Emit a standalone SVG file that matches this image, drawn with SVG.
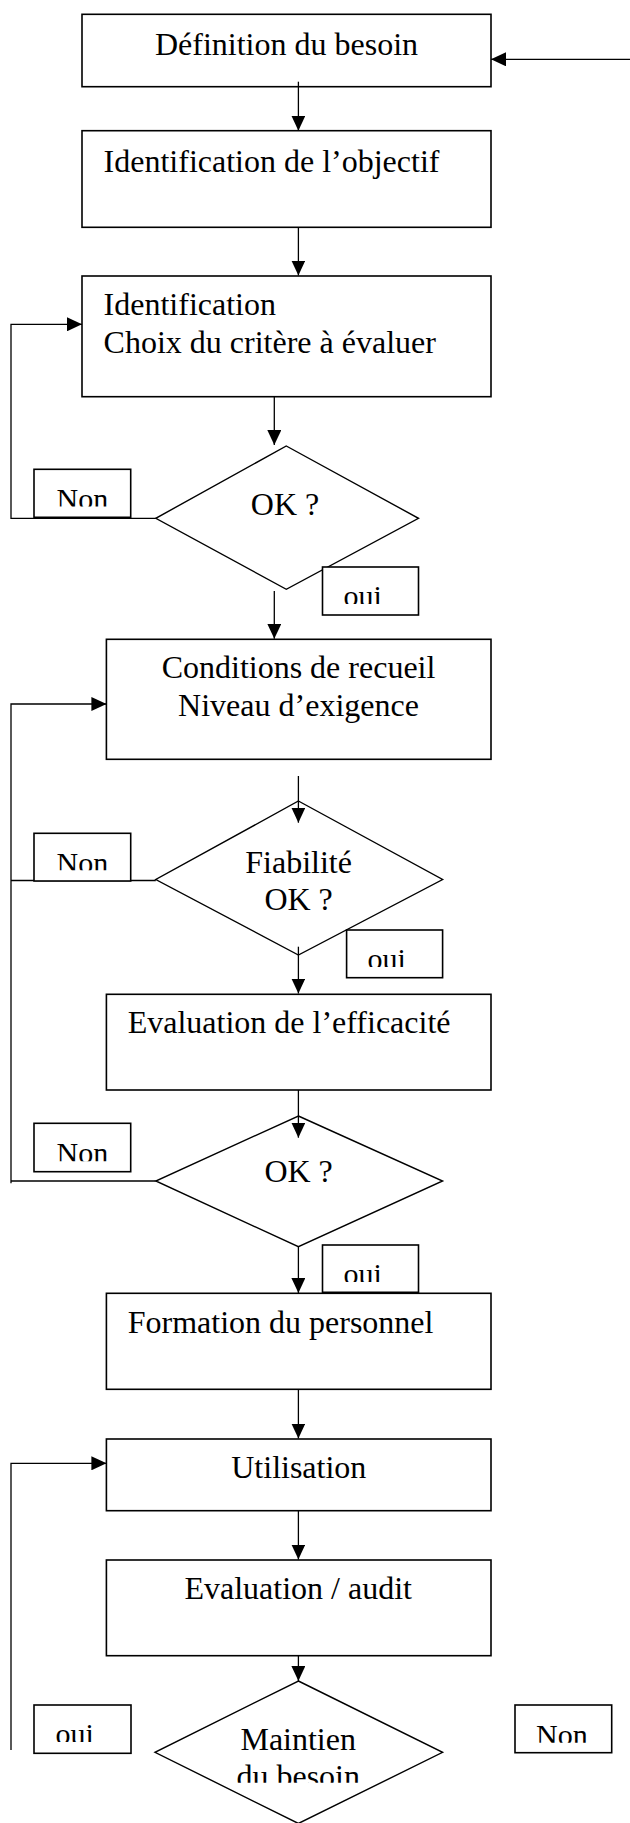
<svg xmlns="http://www.w3.org/2000/svg" width="630" height="1823" viewBox="0 0 630 1823">
  <style>
    .box { fill: #fff; stroke: #000; stroke-width: 1.6; }
    .dia { fill: #fff; stroke: #000; stroke-width: 1.4; }
    .lbl { fill: #fff; stroke: #000; stroke-width: 1.6; }
    .wire { fill: none; stroke: #000; stroke-width: 1.3; }
    .arr { fill: none; stroke: #000; stroke-width: 1.3; marker-end: url(#head); }
    text { font-family: "Liberation Serif", "Times New Roman", serif; fill: #000; }
    .t { font-size: 32px; }
    .c { text-anchor: middle; }
    .l { font-size: 30px; }
  </style>
  <defs>
    <marker id="head" markerUnits="userSpaceOnUse" markerWidth="15" markerHeight="14" refX="15" refY="7" orient="auto">
      <path d="M0,0 L15,7 L0,14 Z" fill="#000"/>
    </marker>
  </defs>

  <rect width="630" height="1823" fill="#fff"/>

  <!-- process steps -->
  <g id="n-definition">
    <rect class="box" x="82" y="14.3" width="409" height="72.4"/>
    <text class="t c" x="286.5" y="55">Définition du besoin</text>
  </g>
  <g id="n-objectif">
    <rect class="box" x="82" y="130.7" width="409" height="96.6"/>
    <text class="t" x="103.6" y="171.7">Identification de l’objectif</text>
  </g>
  <g id="n-critere">
    <rect class="box" x="82" y="276" width="409" height="120.7"/>
    <text class="t" x="103.6" y="315">Identification</text>
    <text class="t" x="103.6" y="353.3">Choix du critère à évaluer</text>
  </g>
  <g id="n-ok1">
    <polygon class="dia" points="286.3,446 418.5,518.3 286.3,589.3 155.8,518.3"/>
    <text class="t c" x="285" y="515">OK ?</text>
  </g>
  <g id="n-conditions">
    <rect class="box" x="106.4" y="639.3" width="384.6" height="120"/>
    <text class="t c" x="298.5" y="678.3">Conditions de recueil</text>
    <text class="t c" x="298.5" y="716">Niveau d’exigence</text>
  </g>
  <g id="n-fiabilite">
    <polygon class="dia" points="298.4,801 442.6,879.5 298.4,955 155.8,879.5"/>
    <text class="t c" x="298.6" y="873.3">Fiabilité</text>
    <text class="t c" x="298.6" y="910">OK ?</text>
  </g>
  <g id="n-efficacite">
    <rect class="box" x="106.4" y="994.3" width="384.6" height="95.7"/>
    <text class="t" x="127.7" y="1033.3">Evaluation de l’efficacité</text>
  </g>
  <g id="n-ok3">
    <polygon class="dia" points="298.4,1116 442.6,1181 298.4,1246.7 155.8,1181"/>
    <text class="t c" x="298.6" y="1181.7">OK ?</text>
  </g>
  <g id="n-formation">
    <rect class="box" x="106.4" y="1293.3" width="384.6" height="96"/>
    <text class="t" x="127.7" y="1333.3">Formation du personnel</text>
  </g>
  <g id="n-utilisation">
    <rect class="box" x="106.4" y="1439" width="384.6" height="71.7"/>
    <text class="t c" x="298.8" y="1478.3">Utilisation</text>
  </g>
  <g id="n-audit">
    <rect class="box" x="106.4" y="1560" width="384.6" height="95.7"/>
    <text class="t c" x="298.2" y="1599.3">Evaluation / audit</text>
  </g>
  <g id="n-maintien">
    <polygon class="dia" points="298.4,1681 442.6,1752.3 298.4,1823.5 155,1752.3"/>
    <svg x="150" y="1700" width="300" height="82.7" overflow="hidden">
      <text class="t c" x="148.2" y="50">Maintien</text>
      <text class="t c" x="148.2" y="87">du besoin</text>
    </svg>
  </g>

  <!-- connectors -->
  <g id="connectors">
    <path class="arr" d="M630,59.3 L491,59.3"/>
    <path class="arr" d="M298.4,81.7 L298.4,130.7"/>
    <path class="arr" d="M298.4,227.3 L298.4,275.5"/>
    <path class="arr" d="M274.3,396.7 L274.3,445"/>
    <path class="arr" d="M155.8,518.3 L11,518.3 L11,324.3 L82,324.3"/>
    <path class="arr" d="M274.3,591 L274.3,638.8"/>
    <path class="arr" d="M298.4,776 L298.4,822.7"/>
    <path class="wire" d="M155.8,880.5 L11,880.5"/>
    <path class="arr" d="M11,1183.3 L11,704 L106.4,704"/>
    <path class="arr" d="M298.4,946.7 L298.4,993.5"/>
    <path class="arr" d="M298.4,1090 L298.4,1137.7"/>
    <path class="wire" d="M155.8,1181 L11,1181"/>
    <path class="arr" d="M298.4,1246.7 L298.4,1293"/>
    <path class="arr" d="M298.4,1389.3 L298.4,1438.5"/>
    <path class="arr" d="M11,1750 L11,1463.3 L106.4,1463.3"/>
    <path class="arr" d="M298.4,1510.7 L298.4,1559.5"/>
    <path class="arr" d="M298.4,1655.7 L298.4,1681"/>
  </g>

  <!-- branch labels -->
  <g id="lbl-non-1">
    <rect class="lbl" x="34" y="469.3" width="96.7" height="48"/>
    <svg x="34" y="469.3" width="96.7" height="37.3" overflow="hidden"><text class="l" x="22.5" y="40">Non</text></svg>
  </g>
  <g id="lbl-oui-1">
    <rect class="lbl" x="322.5" y="567" width="96" height="48"/>
    <svg x="322.5" y="567" width="96" height="37" overflow="hidden"><text class="l" x="21" y="39">oui</text></svg>
  </g>
  <g id="lbl-non-2">
    <rect class="lbl" x="34" y="833.3" width="96.7" height="47.7"/>
    <svg x="34" y="833.3" width="96.7" height="37" overflow="hidden"><text class="l" x="22.5" y="40">Non</text></svg>
  </g>
  <g id="lbl-oui-2">
    <rect class="lbl" x="346.6" y="930" width="96" height="47.7"/>
    <svg x="346.6" y="930" width="96" height="37" overflow="hidden"><text class="l" x="21" y="39">oui</text></svg>
  </g>
  <g id="lbl-non-3">
    <rect class="lbl" x="34" y="1123.3" width="96.7" height="48.4"/>
    <svg x="34" y="1123.3" width="96.7" height="38" overflow="hidden"><text class="l" x="22.5" y="40">Non</text></svg>
  </g>
  <g id="lbl-oui-3">
    <rect class="lbl" x="322.5" y="1245" width="96" height="47.3"/>
    <svg x="322.5" y="1245" width="96" height="37" overflow="hidden"><text class="l" x="21" y="39">oui</text></svg>
  </g>
  <g id="lbl-oui-4">
    <rect class="lbl" x="34" y="1705" width="97" height="48.3"/>
    <svg x="34" y="1705" width="97" height="37" overflow="hidden"><text class="l" x="21.5" y="39">oui</text></svg>
  </g>
  <g id="lbl-non-4">
    <rect class="lbl" x="515" y="1705" width="96.7" height="47.7"/>
    <svg x="515" y="1705" width="96.7" height="37.7" overflow="hidden"><text class="l" x="21" y="40">Non</text></svg>
  </g>
</svg>
